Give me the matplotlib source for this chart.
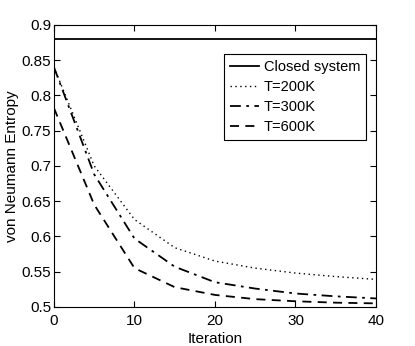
import matplotlib.pyplot as plt

plt.rcParams['font.family'] = ['Liberation Sans', 'DejaVu Sans']

iterations = [0, 5, 10, 15, 20, 25, 30, 35, 40]
closed_system = 0.880
t200 = [0.840, 0.700, 0.624, 0.584, 0.565, 0.555, 0.548, 0.543, 0.539]
t300 = [0.840, 0.688, 0.597, 0.557, 0.535, 0.526, 0.519, 0.515, 0.512]
t600 = [0.782, 0.645, 0.555, 0.528, 0.517, 0.511, 0.508, 0.506, 0.505]

fig = plt.figure(figsize=(4.15, 3.46), dpi=100)
ax = fig.add_axes([0.130, 0.113, 0.776, 0.815])

ax.plot([iterations[0], iterations[-1]], [closed_system, closed_system], 'k-', lw=1.3, label='Closed system')
ax.plot(iterations, t200, color='k', ls=(0, (1, 2.5)), lw=1.0, label='T=200K')
ax.plot(iterations, t300, color='k', ls=(0, (6, 3, 1.5, 3)), lw=1.3, label='T=300K')
ax.plot(iterations, t600, color='k', ls=(0, (5, 3.5)), lw=1.3, label='T=600K')

ax.set_xlim(0, 40)
ax.set_ylim(0.5, 0.9)
ax.set_xticks([0, 10, 20, 30, 40])
ax.set_yticks([0.5, 0.55, 0.6, 0.65, 0.7, 0.75, 0.8, 0.85, 0.9])
ax.set_yticklabels(['0.5', '0.55', '0.6', '0.65', '0.7', '0.75', '0.8', '0.85', '0.9'])
ax.tick_params(direction='in', top=True, right=True, labelsize=11, length=4, pad=2)
ax.tick_params(axis='x', pad=5)
ax.set_xlabel('Iteration', fontsize=11, labelpad=3)
ax.set_ylabel('von Neumann Entropy', fontsize=11, labelpad=2)

leg = ax.legend(loc='upper right', bbox_to_anchor=(0.969, 0.897), borderaxespad=0, fontsize=10.5,
                fancybox=False, edgecolor='black', framealpha=1,
                handlelength=2.0, borderpad=0.4, labelspacing=0.42, handletextpad=0.3)
leg.get_frame().set_linewidth(0.8)

plt.savefig('out.png', dpi=100)
